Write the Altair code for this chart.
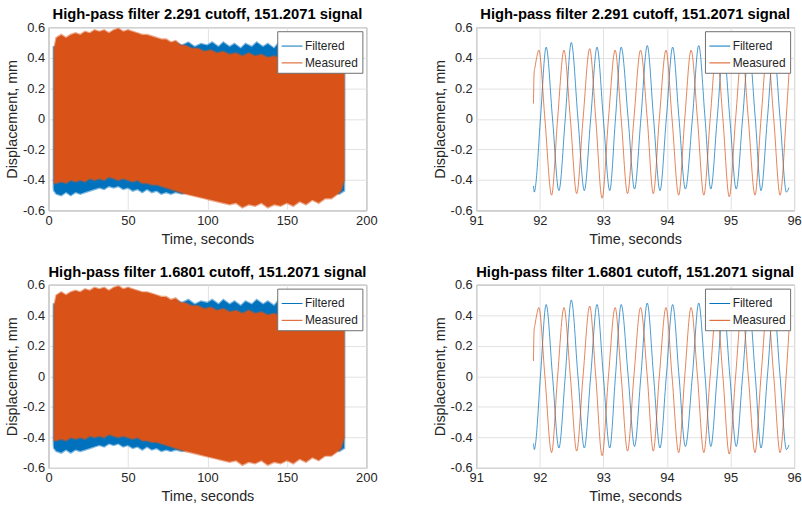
import altair as alt
import pandas as pd

SERIES = ["Filtered", "Measured"]
COLORS = ["#0072BD", "#D95319"]
FONT = "Liberation Sans"

TITLES = [
    "High-pass filter 2.291 cutoff, 151.2071 signal",
    "High-pass filter 1.6801 cutoff, 151.2071 signal",
]

# Whole record: amplitude envelope of the filtered displacement (s, mm)
filt_env_t = [3.3, 3.5, 5, 8, 11, 14, 17, 20, 23, 26, 29, 32, 35, 38, 41, 44, 47, 50,
              53, 56, 59, 62, 65, 68, 71, 74, 77, 80, 84, 88, 92, 96, 100, 103, 107,
              110, 114, 117, 121, 124, 128, 131, 135, 138, 142, 145, 149, 152, 156,
              160, 165, 170, 175, 180, 183, 186]
filt_env_hi = [0.47, 0.47, 0.47, 0.48, 0.47, 0.48, 0.47, 0.48, 0.47, 0.48, 0.47, 0.48,
               0.47, 0.48, 0.47, 0.48, 0.47, 0.48, 0.47, 0.48, 0.47, 0.48, 0.48, 0.49,
               0.48, 0.50, 0.49, 0.50, 0.48, 0.50, 0.47, 0.49, 0.48, 0.50, 0.47, 0.50,
               0.47, 0.49, 0.46, 0.49, 0.47, 0.50, 0.47, 0.49, 0.46, 0.50, 0.47, 0.49,
               0.47, 0.49, 0.47, 0.48, 0.47, 0.48, 0.47, 0.46]
filt_env_lo = [-0.45, -0.47, -0.49, -0.50, -0.48, -0.50, -0.48, -0.49, -0.48, -0.47,
               -0.46, -0.45, -0.46, -0.44, -0.45, -0.44, -0.46, -0.45, -0.47, -0.46,
               -0.48, -0.46, -0.48, -0.47, -0.49, -0.48, -0.49, -0.48, -0.49, -0.48,
               -0.49, -0.48, -0.49, -0.48, -0.49, -0.48, -0.49, -0.48, -0.49, -0.48,
               -0.49, -0.48, -0.49, -0.48, -0.49, -0.48, -0.49, -0.48, -0.49, -0.48,
               -0.49, -0.48, -0.49, -0.48, -0.49, -0.47]

# Whole record: amplitude envelope of the measured displacement (s, mm)
meas_env_t = [3.6, 5, 8, 11, 14, 17, 20, 23, 26, 29, 32, 35, 38, 41, 44, 47, 50, 53,
              56, 59, 62, 65, 68, 71, 74, 77, 80, 83, 86, 90, 94, 98, 102, 106, 110,
              114, 118, 122, 126, 130, 134, 138, 142, 146, 150, 154, 158, 162, 166,
              170, 174, 178, 182, 184, 186]
meas_env_hi = [0.46, 0.53, 0.55, 0.53, 0.55, 0.56, 0.55, 0.57, 0.56, 0.58, 0.57, 0.58,
               0.56, 0.58, 0.59, 0.57, 0.58, 0.57, 0.56, 0.55, 0.55, 0.54, 0.53, 0.52,
               0.52, 0.50, 0.51, 0.48, 0.48, 0.46, 0.46, 0.44, 0.45, 0.43, 0.44, 0.42,
               0.43, 0.41, 0.43, 0.41, 0.42, 0.40, 0.41, 0.39, 0.40, 0.39, 0.40, 0.39,
               0.40, 0.39, 0.40, 0.39, 0.40, 0.38, 0.30]
meas_env_lo = [-0.42, -0.42, -0.41, -0.42, -0.40, -0.41, -0.40, -0.41, -0.39, -0.40,
               -0.39, -0.40, -0.38, -0.39, -0.40, -0.39, -0.40, -0.41, -0.40, -0.42,
               -0.42, -0.43, -0.43, -0.44, -0.45, -0.46, -0.47, -0.48, -0.49, -0.50,
               -0.51, -0.52, -0.53, -0.54, -0.55, -0.56, -0.55, -0.58, -0.56, -0.57,
               -0.55, -0.58, -0.56, -0.57, -0.55, -0.57, -0.54, -0.56, -0.53, -0.55,
               -0.52, -0.52, -0.49, -0.47, -0.40]

# Close-up window 91.9-95.9 s: filtered trace (s, mm)
filt_t = [91.900, 91.915, 91.930, 92.010, 92.100, 92.200, 92.300, 92.400, 92.495,
          92.600, 92.700, 92.800, 92.900, 93.000, 93.100, 93.190, 93.280, 93.390,
          93.490, 93.590, 93.690, 93.790, 93.890, 93.990, 94.090, 94.190, 94.290,
          94.400, 94.500, 94.600, 94.690, 94.790, 94.890, 94.990, 95.090, 95.190,
          95.290, 95.390, 95.480, 95.580, 95.680, 95.780, 95.880, 95.920]
filt_v = [-0.44, -0.48, -0.45, 0.00, 0.47, 0.00, -0.47, 0.00, 0.50, 0.00, -0.47,
          0.00, 0.47, 0.00, -0.47, 0.00, 0.47, 0.00, -0.46, 0.00, 0.48, 0.00, -0.47,
          0.00, 0.47, 0.00, -0.46, 0.00, 0.48, 0.00, -0.46, 0.00, 0.46, 0.00, -0.46,
          0.00, 0.46, 0.00, -0.47, 0.00, 0.46, 0.00, -0.48, -0.45]

# Close-up window 91.9-95.9 s: measured trace (s, mm)
meas_t = [91.900, 91.910, 91.925, 91.950, 91.985, 92.080, 92.185, 92.280, 92.380,
          92.480, 92.580, 92.680, 92.785, 92.880, 92.980, 93.080, 93.185, 93.280,
          93.380, 93.480, 93.585, 93.690, 93.785, 93.880, 93.985, 94.080, 94.185,
          94.280, 94.380, 94.480, 94.580, 94.680, 94.780, 94.880, 94.980, 95.080,
          95.180, 95.280, 95.385, 95.480, 95.580, 95.680, 95.780, 95.875, 95.920]
meas_v = [0.10, 0.30, 0.34, 0.40, 0.45, 0.00, -0.50, 0.00, 0.45, 0.00, -0.49, 0.00,
          0.46, 0.00, -0.52, 0.00, 0.45, 0.00, -0.49, 0.00, 0.45, 0.00, -0.49, 0.00,
          0.45, 0.00, -0.50, 0.00, 0.45, 0.00, -0.50, 0.00, 0.45, 0.00, -0.51, 0.00,
          0.45, 0.00, -0.50, 0.00, 0.45, 0.00, -0.50, 0.00, 0.30]

Y_TICKS = [-0.6, -0.4, -0.2, 0, 0.2, 0.4, 0.6]
X_TICKS_FULL = [0, 50, 100, 150, 200]
X_TICKS_ZOOM = [91, 92, 93, 94, 95, 96]

W, H = 321, 185

env = pd.concat([
    pd.DataFrame({"t": filt_env_t, "lo": filt_env_lo, "hi": filt_env_hi, "series": SERIES[0]}),
    pd.DataFrame({"t": meas_env_t, "lo": meas_env_lo, "hi": meas_env_hi, "series": SERIES[1]}),
])
trace = pd.concat([
    pd.DataFrame({"t": filt_t, "v": filt_v, "series": SERIES[0]}),
    pd.DataFrame({"t": meas_t, "v": meas_v, "series": SERIES[1]}),
])

color_scale = alt.Scale(domain=SERIES, range=COLORS)
y_label_expr = "datum.value == 0 ? '0' : toString(round(datum.value * 10) / 10)"


def y_enc(field):
    return alt.Y(field, type="quantitative",
                 scale=alt.Scale(domain=[-0.6, 0.6], nice=False),
                 axis=alt.Axis(values=Y_TICKS, labelExpr=y_label_expr,
                               title="Displacement, mm", titlePadding=3))


def x_enc(domain, ticks):
    return alt.X("t:Q", scale=alt.Scale(domain=domain, nice=False),
                 axis=alt.Axis(values=ticks, format="d", title="Time, seconds"))


def full_panel(title):
    layers = []
    for s in SERIES:
        layers.append(
            alt.Chart(env).transform_filter(alt.datum.series == s)
            .mark_area(strokeWidth=2.4, strokeOpacity=0.5, clip=True)
            .encode(
                x=x_enc([0, 200], X_TICKS_FULL),
                y=y_enc("lo"),
                y2="hi:Q",
                fill=alt.Fill("series:N", scale=color_scale, legend=alt.Legend(title=None)),
                stroke=alt.Stroke("series:N", scale=color_scale, legend=alt.Legend(title=None)),
            )
        )
    return alt.layer(*layers).properties(width=W, height=H, title=title)


def zoom_panel(title):
    layers = []
    for s in SERIES:
        layers.append(
            alt.Chart(trace).transform_filter(alt.datum.series == s)
            .mark_line(interpolate="monotone", strokeWidth=0.9, opacity=0.8, clip=True)
            .encode(
                x=x_enc([91, 96], X_TICKS_ZOOM),
                y=y_enc("v"),
                color=alt.Color("series:N", scale=color_scale, legend=alt.Legend(title=None)),
            )
        )
    return alt.layer(*layers).properties(width=W, height=H, title=title)


rows = [
    alt.hconcat(full_panel(t), zoom_panel(t), spacing=54)
    .resolve_scale(color="independent", fill="independent", stroke="independent")
    for t in TITLES
]

chart = (
    alt.vconcat(*rows, spacing=18)
    .resolve_scale(color="independent", fill="independent", stroke="independent")
    .properties(padding={"left": 4, "top": 4, "right": 0, "bottom": 0}, background="white")
    .configure_view(stroke="#808080", strokeWidth=1)
    .configure_axis(
        labelFont=FONT, titleFont=FONT, labelFontSize=13, titleFontSize=14.5,
        labelColor="#262626", titleColor="#262626", titleFontWeight="normal",
        grid=True, gridColor="#e2e2e2", gridWidth=1, domain=False, ticks=False,
        labelPadding=4, titlePadding=5, labelFlush=False,
    )
    .configure_title(font=FONT, fontSize=14.9, fontWeight="bold", color="#000000",
                     anchor="middle", offset=-1)
    .configure_legend(
        orient="top-right", offset=4, fillColor="white", strokeColor="#6e6e6e",
        padding=4, labelFont=FONT, labelFontSize=12, labelColor="#262626",
        symbolType="stroke", symbolSize=441, symbolStrokeWidth=1, labelOffset=2,
        rowPadding=-4, symbolOpacity=1,
    )
)

chart.save("out.html", embed_options={"renderer": "svg", "actions": False})
